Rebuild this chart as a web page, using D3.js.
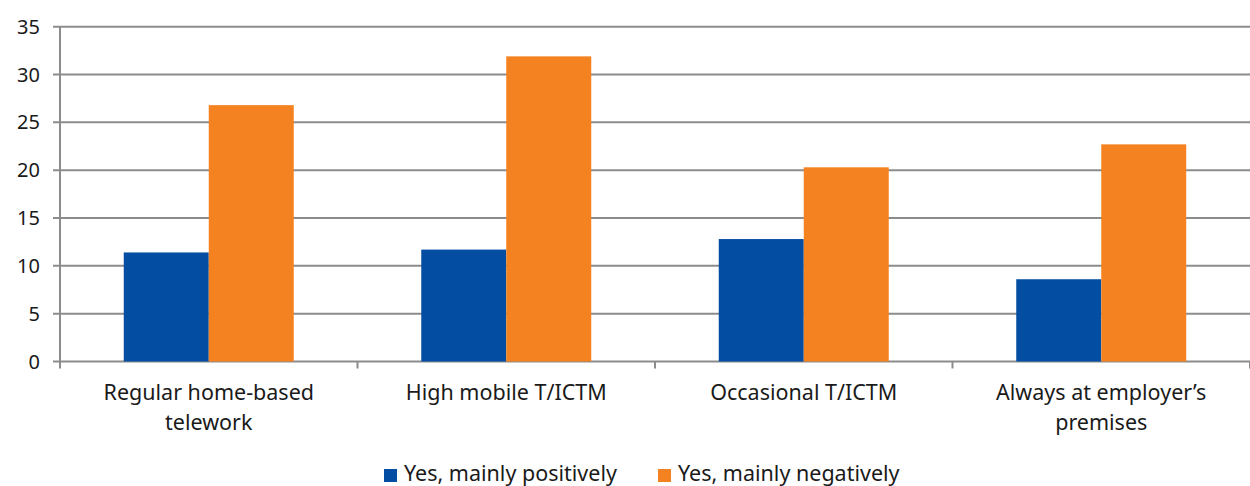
<!DOCTYPE html>
<html><head><meta charset="utf-8">
<script src="https://cdn.jsdelivr.net/npm/d3@7"></script>
<style>body{margin:0;background:#fff;} svg{display:block;} text{font-family:"Noto Sans",sans-serif;fill:#1a1a1a;}</style>
</head><body>
<svg id="c" width="1250" height="486"></svg>
<script>
const categories = [["Regular home-based","telework"],["High mobile T/ICTM"],["Occasional T/ICTM"],["Always at employer\u2019s","premises"]];
const seriesNames = ["Yes, mainly positively","Yes, mainly negatively"];
const positive = [11.4, 11.7, 12.8, 8.6];
const negative = [26.8, 31.9, 20.3, 22.7];
const yTicks = [0,5,10,15,20,25,30,35];
const colors = ["#034ea2","#f58220"];

(function(){
const svg = d3.select("#c");
const mLeft = 60, mRight = 1250, mTop = 26.7, mBottom = 361.5;
const idx = d3.range(categories.length);
const x = d3.scaleBand().domain(idx).range([mLeft, mRight]).paddingInner(0).paddingOuter(0);
const y = d3.scaleLinear().domain([0,35]).range([mBottom, mTop]);

svg.append("g").selectAll("line").data(yTicks).join("line")
  .attr("x1", mLeft - 7).attr("x2", mRight).attr("y1", d=>y(d)).attr("y2", d=>y(d))
  .attr("stroke", "#8c8c8c").attr("stroke-width", 2);
svg.append("g").selectAll("text").data(yTicks).join("text")
  .attr("x", 40).attr("y", d=>y(d)).attr("dy","0.35em").attr("text-anchor","end")
  .style("font-size","20px").text(d=>d);
svg.append("line").attr("x1", mLeft).attr("x2", mLeft).attr("y1", mTop).attr("y2", mBottom+7)
  .attr("stroke","#8c8c8c").attr("stroke-width",2);
const bounds = idx.map(i=>x(i)).concat([mRight]);
svg.append("g").selectAll("line").data(bounds.slice(1)).join("line")
  .attr("x1", d=>d).attr("x2", d=>d).attr("y1", mBottom).attr("y2", mBottom+7)
  .attr("stroke","#8c8c8c").attr("stroke-width",2);

const bw = 85;
const series = [positive, negative];
series.forEach((vals, s) => {
  svg.append("g").selectAll("rect").data(vals).join("rect")
    .attr("x", (d,i)=> x(i) + x.bandwidth()/2 - bw + s*bw)
    .attr("width", bw)
    .attr("y", d=>y(d)).attr("height", d=>y(0)-y(d))
    .attr("fill", colors[s]);
});

const cl = svg.append("g").selectAll("text").data(categories).join("text")
  .attr("x", (d,i)=> x(i)+x.bandwidth()/2).attr("y", 400).attr("text-anchor","middle")
  .style("font-size","21.5px");
cl.each(function(d){
  const t = d3.select(this);
  d.forEach((line,j)=> t.append("tspan").attr("x", t.attr("x")).attr("dy", j===0?0:"30px").text(line));
});

const lg = svg.append("g");
const legX = [384, 658];
seriesNames.forEach((n,s)=>{
  lg.append("rect").attr("x", legX[s]).attr("y", 469).attr("width",13).attr("height",13).attr("fill",colors[s]);
  lg.append("text").attr("x", legX[s]+20).attr("y", 481).style("font-size","21.5px").text(n);
});
})();
</script>
</body></html>
